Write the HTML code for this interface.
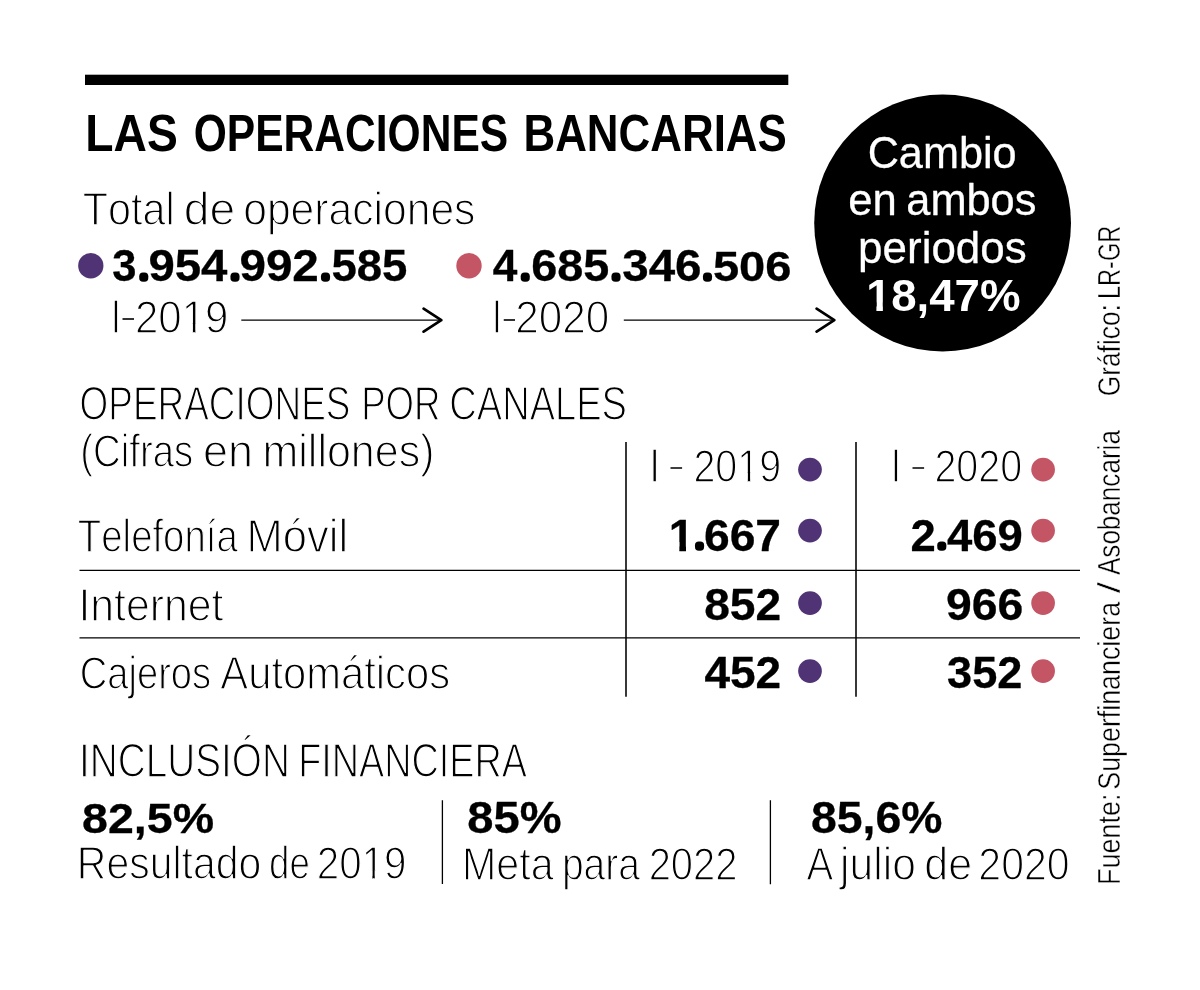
<!DOCTYPE html>
<html lang="es"><head><meta charset="utf-8"><title>Las operaciones bancarias</title>
<style>
html,body{margin:0;padding:0;background:#fff}
body{width:1200px;height:990px;position:relative;overflow:hidden;font-family:"Liberation Sans",sans-serif}
.a{position:absolute;left:0;top:0;will-change:transform}
text{font-family:"Liberation Sans",sans-serif;white-space:pre;font-kerning:none;font-variant-ligatures:none}
</style></head><body>
<svg class="a" width="1200" height="990" viewBox="0 0 1200 990">
<defs><clipPath id="one400"><path d="M-200 -1700H1400V-400H665V200H546V-400H-200Z"/></clipPath><clipPath id="one700"><path d="M-200 -1700H1400V-400H767V200H470V-400H-200Z"/></clipPath></defs>
<g fill="none">
<rect x="85" y="74.7" width="703.3" height="10.3" fill="#000" stroke="none"/>
<circle cx="942.6" cy="223.0" r="128.4" fill="#000" stroke="none"/>
<circle cx="90.8" cy="265.75" r="12.65" fill="#503374" stroke="none"/>
<circle cx="469" cy="265.8" r="12.7" fill="#c45565" stroke="none"/>
<circle cx="810" cy="469.6" r="11.85" fill="#503374" stroke="none"/>
<circle cx="1043.1" cy="469.6" r="11.85" fill="#c45565" stroke="none"/>
<circle cx="810" cy="530.6" r="11.85" fill="#503374" stroke="none"/>
<circle cx="1043.1" cy="530.6" r="11.85" fill="#c45565" stroke="none"/>
<circle cx="810" cy="603.1" r="11.85" fill="#503374" stroke="none"/>
<circle cx="1043.1" cy="603.1" r="11.85" fill="#c45565" stroke="none"/>
<circle cx="810" cy="671.1" r="11.85" fill="#503374" stroke="none"/>
<circle cx="1043.1" cy="671.1" r="11.85" fill="#c45565" stroke="none"/>
<path d="M626 442V696.8M856 442V696.8" stroke="#000" stroke-width="1.55"/>
<path d="M79.5 570.4H1080" stroke="#000" stroke-width="1.25"/>
<path d="M79.5 637.85H1080" stroke="#000" stroke-width="1.45"/>
<path d="M442.4 800.2V884M770.4 800.2V884.3" stroke="#000" stroke-width="1.3"/>
<rect x="122.5" y="318.2" width="11.50" height="1.6" fill="#000"/>
<rect x="503.75" y="319.2" width="11.25" height="1.6" fill="#000"/>
<rect x="670.5" y="467.25" width="11.60" height="1.5" fill="#000"/>
<rect x="912.5" y="467.25" width="11.60" height="1.5" fill="#000"/>
<path d="M241.3 320.1H441M623.8 320.1H834" stroke="#000" stroke-width="1.35"/>
<path d="M423.6 308.7L441.3 320.2L423.6 331.7M816.6 308.7L834.3 320.1L816.6 331.6" stroke="#000" stroke-width="2.7" stroke-linecap="round" stroke-linejoin="round"/>
</g>
<g fill="#000" stroke-linejoin="round">
<text transform="translate(85.31 150.90) scale(0.8888 1)" font-size="52.04" font-weight="700">LAS</text>
<text transform="translate(193.75 150.90) scale(0.8179 1)" font-size="52.04" font-weight="700">OPERACIONES</text>
<text transform="translate(523.46 150.90) scale(0.8438 1)" font-size="52.04" font-weight="700">BANCARIAS</text>
<text transform="translate(82.86 225.45) scale(0.8770 1)" font-size="47.09" stroke="#fff" stroke-width="1.4">Total</text>
<text transform="translate(183.87 225.45) scale(0.9805 1)" font-size="47.09" stroke="#fff" stroke-width="1.4">de</text>
<text transform="translate(243.18 225.45) scale(0.9054 1)" font-size="47.09" stroke="#fff" stroke-width="1.4">operaciones</text>
<text transform="translate(112.15 281.25) scale(0.9999 1)" font-size="43.46" font-weight="700" stroke="#000" stroke-width="0.30">3</text>
<text transform="translate(142.25 277.62) scale(1.0000 1)" font-size="10.87" font-weight="700" stroke="#000" stroke-width="7.57">.</text>
<text transform="translate(148.42 281.25) scale(1.0905 1)" font-size="43.46" font-weight="700" stroke="#000" stroke-width="0.30">954</text>
<text transform="translate(233.60 277.62) scale(1.0000 1)" font-size="10.87" font-weight="700" stroke="#000" stroke-width="7.57">.</text>
<text transform="translate(239.41 281.25) scale(1.0954 1)" font-size="43.46" font-weight="700" stroke="#000" stroke-width="0.30">992</text>
<text transform="translate(323.90 277.62) scale(1.0000 1)" font-size="10.87" font-weight="700" stroke="#000" stroke-width="7.57">.</text>
<text transform="translate(331.46 281.25) scale(1.0475 1)" font-size="43.46" font-weight="700" stroke="#000" stroke-width="0.30">585</text>
<text transform="translate(492.78 281.25) scale(1.0178 1)" font-size="43.46" font-weight="700" stroke="#000" stroke-width="0.30">4</text>
<text transform="translate(523.65 277.62) scale(1.0000 1)" font-size="10.87" font-weight="700" stroke="#000" stroke-width="7.57">.</text>
<text transform="translate(531.15 281.25) scale(1.0756 1)" font-size="43.46" font-weight="700" stroke="#000" stroke-width="0.30">685</text>
<text transform="translate(614.50 277.62) scale(1.0000 1)" font-size="10.87" font-weight="700" stroke="#000" stroke-width="7.57">.</text>
<text transform="translate(622.27 281.25) scale(1.0933 1)" font-size="43.46" font-weight="700" stroke="#000" stroke-width="0.30">346</text>
<text transform="translate(706.00 277.62) scale(1.0000 1)" font-size="10.87" font-weight="700" stroke="#000" stroke-width="7.57">.</text>
<text transform="translate(712.91 281.25) scale(1.0829 1)" font-size="43.46" font-weight="700" stroke="#000" stroke-width="0.30">506</text>
<text transform="translate(110.77 332.60) scale(0.7707 1)" font-size="48.40" stroke="#fff" stroke-width="1.4">I</text>
<text transform="translate(135.01 332.60) scale(0.8966 1)" font-size="46.83" stroke="#fff" stroke-width="1.4">20</text>
<text transform="translate(181.71 332.60) scale(0.02050 0.02287)" font-size="2048" stroke="#fff" stroke-width="61.22" clip-path="url(#one400)">1</text>
<text transform="translate(205.06 332.60) scale(0.8966 1)" font-size="46.83" stroke="#fff" stroke-width="1.4">9</text>
<text transform="translate(491.76 333.45) scale(0.7741 1)" font-size="48.26" stroke="#fff" stroke-width="1.4">I</text>
<text transform="translate(515.24 333.45) scale(0.9027 1)" font-size="46.83" stroke="#fff" stroke-width="1.4">2020</text>
<text transform="translate(79.51 420.00) scale(0.7727 1)" font-size="47.82" stroke="#fff" stroke-width="1.4">OPERACIONES</text>
<text transform="translate(361.16 420.00) scale(0.7660 1)" font-size="47.82" stroke="#fff" stroke-width="1.4">POR</text>
<text transform="translate(449.31 420.00) scale(0.7959 1)" font-size="47.82" stroke="#fff" stroke-width="1.4">CANALES</text>
<text transform="translate(80.35 467.10) scale(0.8142 1)" font-size="47.09" stroke="#fff" stroke-width="1.4">(Cifras</text>
<text transform="translate(203.02 467.10) scale(0.9538 1)" font-size="47.09" stroke="#fff" stroke-width="1.4">en</text>
<text transform="translate(262.51 467.10) scale(0.9128 1)" font-size="47.09" stroke="#fff" stroke-width="1.4">millones)</text>
<text transform="translate(649.62 481.55) scale(0.7707 1)" font-size="48.40" stroke="#fff" stroke-width="1.4">I</text>
<text transform="translate(693.43 481.55) scale(0.8426 1)" font-size="46.83" stroke="#fff" stroke-width="1.4">20</text>
<text transform="translate(737.32 481.55) scale(0.01927 0.02287)" font-size="2048" stroke="#fff" stroke-width="61.22" clip-path="url(#one400)">1</text>
<text transform="translate(759.26 481.55) scale(0.8426 1)" font-size="46.83" stroke="#fff" stroke-width="1.4">9</text>
<text transform="translate(890.72 481.55) scale(0.7707 1)" font-size="48.40" stroke="#fff" stroke-width="1.4">I</text>
<text transform="translate(934.43 481.55) scale(0.8418 1)" font-size="46.83" stroke="#fff" stroke-width="1.4">2020</text>
<text transform="translate(77.87 551.50) scale(0.8144 1)" font-size="47.09" stroke="#fff" stroke-width="1.4">Telefonía</text>
<text transform="translate(246.58 551.50) scale(0.9243 1)" font-size="47.09" stroke="#fff" stroke-width="1.4">Móvil</text>
<text transform="translate(668.81 550.75) scale(0.02244 0.02179)" font-size="2048" font-weight="700" stroke="#000" stroke-width="13.77" clip-path="url(#one700)">1</text>
<text transform="translate(697.96 547.14) scale(1.0000 1)" font-size="11.16" font-weight="700" stroke="#000" stroke-width="7.53">.</text>
<text transform="translate(703.96 550.75) scale(1.0357 1)" font-size="44.62" font-weight="700" stroke="#000" stroke-width="0.30">667</text>
<text transform="translate(910.38 550.75) scale(1.0191 1)" font-size="44.62" font-weight="700" stroke="#000" stroke-width="0.30">2</text>
<text transform="translate(940.16 547.14) scale(1.0000 1)" font-size="11.16" font-weight="700" stroke="#000" stroke-width="7.53">.</text>
<text transform="translate(946.96 550.75) scale(1.0191 1)" font-size="44.62" font-weight="700" stroke="#000" stroke-width="0.30">469</text>
<text transform="translate(78.42 620.70) scale(0.9081 1)" font-size="47.09" stroke="#fff" stroke-width="1.4">Internet</text>
<text transform="translate(704.19 619.85) scale(1.0513 1)" font-size="43.90" font-weight="700" stroke="#000" stroke-width="0.30">852</text>
<text transform="translate(946.05 619.85) scale(1.0542 1)" font-size="43.90" font-weight="700" stroke="#000" stroke-width="0.30">966</text>
<text transform="translate(79.80 688.50) scale(0.8094 1)" font-size="47.09" stroke="#fff" stroke-width="1.4">Cajeros</text>
<text transform="translate(220.30 688.50) scale(0.8869 1)" font-size="47.09" stroke="#fff" stroke-width="1.4">Automáticos</text>
<text transform="translate(704.46 687.85) scale(1.0476 1)" font-size="43.90" font-weight="700" stroke="#000" stroke-width="0.30">452</text>
<text transform="translate(947.12 687.85) scale(1.0279 1)" font-size="43.90" font-weight="700" stroke="#000" stroke-width="0.30">352</text>
<text transform="translate(79.06 776.50) scale(0.8024 1)" font-size="48.26" stroke="#fff" stroke-width="1.4">INCLUSIÓN</text>
<text transform="translate(298.25 776.50) scale(0.7831 1)" font-size="48.26" stroke="#fff" stroke-width="1.4">FINANCIERA</text>
<text transform="translate(82.08 832.65) scale(1.0710 1)" font-size="43.46" font-weight="700" stroke="#000" stroke-width="0.30">82,5%</text>
<text transform="translate(76.83 879.40) scale(0.8700 1)" font-size="47.09" stroke="#fff" stroke-width="1.4">Resultado</text>
<text transform="translate(269.12 879.40) scale(0.7780 1)" font-size="47.09" stroke="#fff" stroke-width="1.4">de</text>
<text transform="translate(316.77 879.40) scale(0.8614 1)" font-size="46.83" stroke="#fff" stroke-width="1.4">20</text>
<text transform="translate(361.64 879.40) scale(0.01970 0.02287)" font-size="2048" stroke="#fff" stroke-width="61.22" clip-path="url(#one400)">1</text>
<text transform="translate(384.08 879.40) scale(0.8614 1)" font-size="46.83" stroke="#fff" stroke-width="1.4">9</text>
<text transform="translate(467.37 832.65) scale(1.0831 1)" font-size="43.46" font-weight="700" stroke="#000" stroke-width="0.30">85%</text>
<text transform="translate(462.01 879.50) scale(0.8750 1)" font-size="47.09" stroke="#fff" stroke-width="1.4">Meta</text>
<text transform="translate(561.90 879.50) scale(0.8294 1)" font-size="47.09" stroke="#fff" stroke-width="1.4">para</text>
<text transform="translate(648.64 879.50) scale(0.8540 1)" font-size="46.83" stroke="#fff" stroke-width="1.4">2022</text>
<text transform="translate(811.09 832.65) scale(1.0661 1)" font-size="43.46" font-weight="700" stroke="#000" stroke-width="0.30">85,6%</text>
<text transform="translate(806.43 879.50) scale(0.8516 1)" font-size="47.09" stroke="#fff" stroke-width="1.4">A</text>
<text transform="translate(840.11 879.50) scale(0.9038 1)" font-size="47.09" stroke="#fff" stroke-width="1.4">julio</text>
<text transform="translate(924.26 879.50) scale(0.9123 1)" font-size="47.09" stroke="#fff" stroke-width="1.4">de</text>
<text transform="translate(978.32 879.50) scale(0.8763 1)" font-size="46.83" stroke="#fff" stroke-width="1.4">2020</text>
<text transform="translate(867.65 168.45) scale(0.9819 1)" font-size="44.04" fill="#fff" stroke="#fff" stroke-width="0.30">Cambio</text>
<text transform="translate(848.29 215.15) scale(0.9920 1)" font-size="44.04" fill="#fff" stroke="#fff" stroke-width="0.30">en</text>
<text transform="translate(906.31 215.15) scale(0.9843 1)" font-size="44.04" fill="#fff" stroke="#fff" stroke-width="0.30">ambos</text>
<text transform="translate(858.12 262.85) scale(0.9981 1)" font-size="44.04" fill="#fff" stroke="#fff" stroke-width="0.30">periodos</text>
<text transform="translate(866.15 311.00) scale(0.02181 0.02172)" font-size="2048" font-weight="700" fill="#fff" clip-path="url(#one700)">1</text>
<text transform="translate(891.15 311.00) scale(1.0257 1)" font-size="44.48" font-weight="700" fill="#fff">8,47%</text>
<text transform="translate(1120.05 884.92) rotate(-90) scale(0.8399 1)" font-size="32.12" stroke="#fff" stroke-width="0.5">Fuente:</text>
<text transform="translate(1120.05 789.73) rotate(-90) scale(0.8348 1)" font-size="32.12" stroke="#fff" stroke-width="0.5">Superfinanciera</text>
<text transform="translate(1120.05 593.31) rotate(-90) scale(1.2582 1)" font-size="32.12" stroke="#fff" stroke-width="0.5">/</text>
<text transform="translate(1120.05 575.05) rotate(-90) scale(0.8118 1)" font-size="32.12" stroke="#fff" stroke-width="0.5">Asobancaria</text>
<text transform="translate(1120.05 396.33) rotate(-90) scale(0.8202 1)" font-size="32.12" stroke="#fff" stroke-width="0.5">Gráfico:</text>
<text transform="translate(1120.05 299.02) rotate(-90) scale(0.7344 1)" font-size="32.12" stroke="#fff" stroke-width="0.5">LR-GR</text>
</g>
</svg>
</body></html>
